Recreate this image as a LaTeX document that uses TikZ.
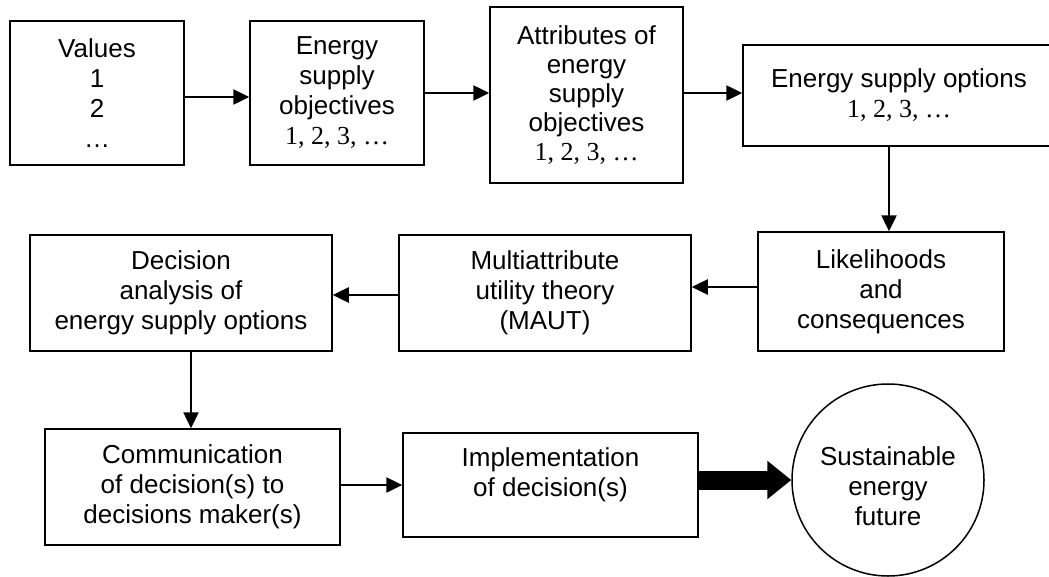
\documentclass[tikz,border=0pt]{standalone}
\usepackage{fontspec}
\setmainfont{Liberation Sans}
\newfontfamily\tms{Liberation Serif}
\usetikzlibrary{arrows.meta}
\begin{document}
\begin{tikzpicture}[x=1pt,y=-1pt,
  txt/.style={align=center, inner sep=0pt, font=\fontsize{26}{30}\selectfont},
  box/.style={txt, draw, line width=1.5pt, rectangle},
  arr/.style={line width=2.5pt, -{Triangle[length=16pt,width=15pt]}},
  bigarr/.style={line width=19pt, -{Triangle[length=24pt,width=37pt]}}
]
\useasboundingbox (0,0) rectangle (1049,576);
\clip (0,0) rectangle (1049,576);
\fill[white] (0,0) rectangle (1049,576);

% row 1
\node[box, minimum width=174pt, minimum height=144pt] (val) at (97,93) {Values\\1\\2\\…};
\node[box, minimum width=174pt, minimum height=144pt] (obj) at (337,93) {Energy\\supply\\objectives\\{\tms 1, 2, 3, …}};
\node[box, minimum width=193pt, minimum height=176pt, font=\fontsize{26}{29}\selectfont] (att) at (586.5,95) {Attributes of\\energy\\supply\\objectives\\{\tms 1, 2, 3, …}};
\node[box, minimum width=312pt, minimum height=101pt] (opt) at (899,95.5) {Energy supply options\\{\tms 1, 2, 3, …}};

% row 2
\node[box, minimum width=246pt, minimum height=119pt] (lik) at (881,291.5) {Likelihoods\\and\\consequences};
\node[box, minimum width=292pt, minimum height=116pt] (maut) at (545,293) {Multiattribute\\utility theory\\(MAUT)};
\node[box, minimum width=302pt, minimum height=116pt] (dec) at (181,293) {Decision\\analysis of\\energy supply options};

% row 3
\node[box, minimum width=295pt, minimum height=116pt] (com) at (192.5,487) {Communication\\of decision(s) to\\decisions maker(s)};
\node[box, minimum width=295pt, minimum height=104pt] (imp) at (550.5,485) {};
\node[txt] (impt) at (550.5,475) {Implementation\\of decision(s)};
\node[txt, draw, circle, line width=1.5pt, minimum size=192pt] (fut) at (888,480) {};
\node[txt] (futt) at (888,486) {Sustainable\\energy\\future};

% helper coordinates
\coordinate (y97) at (0,97);
\coordinate (y93) at (0,93);
\coordinate (y287) at (0,287);
\coordinate (y295) at (0,295);
\coordinate (y485) at (0,485);
\coordinate (x889) at (889,0);
\coordinate (x191) at (191,0);

% connectors
\draw[arr] (val.east |- y97) -- (obj.west |- y97);
\draw[arr] (obj.east |- y93) -- (att.west |- y93);
\draw[arr] (att.east |- y93) -- (opt.west |- y93);
\draw[arr] (opt.south -| x889) -- (lik.north -| x889);
\draw[arr] (lik.west |- y287) -- (maut.east |- y287);
\draw[arr] (maut.west |- y295) -- (dec.east |- y295);
\draw[arr] (dec.south -| x191) -- (com.north -| x191);
\draw[arr] (com.east |- y485) -- (imp.west |- y485);
\draw[bigarr] (imp.east |- fut.west) -- (fut.west);
\end{tikzpicture}
\end{document}
